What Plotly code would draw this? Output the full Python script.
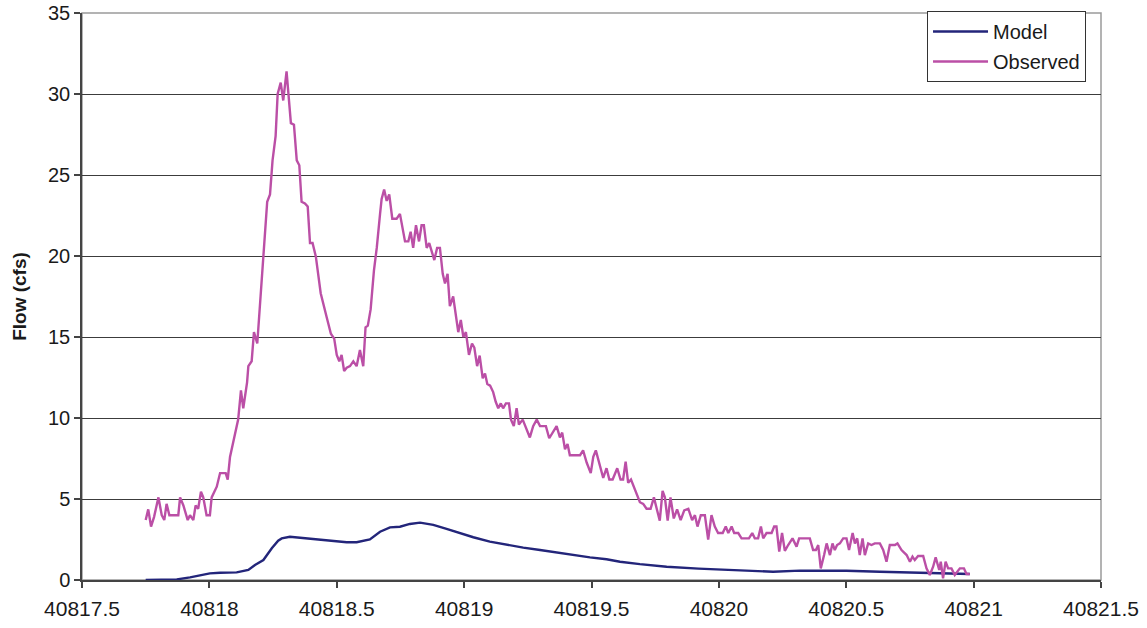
import plotly.graph_objects as go

# Observed flow record (date serial, cfs)
obs_x = [
    40817.750, 40817.760, 40817.771, 40817.783, 40817.800, 40817.813, 40817.823, 40817.832,
    40817.843, 40817.878, 40817.885, 40817.898, 40817.915, 40817.924, 40817.937, 40817.946,
    40817.956, 40817.967, 40817.976, 40817.989, 40818.002, 40818.009, 40818.029, 40818.042,
    40818.064, 40818.072, 40818.081, 40818.100, 40818.113, 40818.124, 40818.133, 40818.148,
    40818.153, 40818.166, 40818.175, 40818.188, 40818.205, 40818.215, 40818.227, 40818.238,
    40818.248, 40818.260, 40818.268, 40818.280, 40818.290, 40818.303, 40818.320, 40818.332,
    40818.343, 40818.353, 40818.362, 40818.375, 40818.386, 40818.395, 40818.405, 40818.418,
    40818.437, 40818.460, 40818.477, 40818.490, 40818.500, 40818.510, 40818.519, 40818.529,
    40818.539, 40818.552, 40818.565, 40818.578, 40818.591, 40818.604, 40818.613, 40818.622,
    40818.633, 40818.646, 40818.657, 40818.670, 40818.676, 40818.686, 40818.696, 40818.706,
    40818.718, 40818.735, 40818.748, 40818.768, 40818.781, 40818.790, 40818.800, 40818.811,
    40818.823, 40818.833, 40818.842, 40818.853, 40818.863, 40818.883, 40818.894, 40818.905,
    40818.916, 40818.925, 40818.935, 40818.944, 40818.957, 40818.977, 40818.987, 40818.997,
    40819.007, 40819.019, 40819.031, 40819.040, 40819.051, 40819.061, 40819.073, 40819.082,
    40819.091, 40819.102, 40819.114, 40819.124, 40819.134, 40819.144, 40819.153, 40819.164,
    40819.176, 40819.184, 40819.195, 40819.206, 40819.215, 40819.230, 40819.241, 40819.258,
    40819.271, 40819.285, 40819.298, 40819.321, 40819.334, 40819.350, 40819.363, 40819.376,
    40819.385, 40819.396, 40819.406, 40819.415, 40819.455, 40819.467, 40819.481, 40819.497,
    40819.507, 40819.517, 40819.530, 40819.546, 40819.559, 40819.570, 40819.583, 40819.601,
    40819.614, 40819.624, 40819.634, 40819.644, 40819.655, 40819.670, 40819.690, 40819.703,
    40819.716, 40819.732, 40819.745, 40819.756, 40819.768, 40819.779, 40819.788, 40819.799,
    40819.810, 40819.823, 40819.836, 40819.850, 40819.864, 40819.880, 40819.895, 40819.906,
    40819.916, 40819.929, 40819.945, 40819.958, 40819.971, 40819.984, 40819.997, 40820.015,
    40820.027, 40820.037, 40820.050, 40820.060, 40820.076, 40820.089, 40820.118, 40820.131,
    40820.141, 40820.154, 40820.165, 40820.174, 40820.187, 40820.207, 40820.217, 40820.226,
    40820.237, 40820.248, 40820.259, 40820.272, 40820.289, 40820.305, 40820.315, 40820.325,
    40820.357, 40820.370, 40820.381, 40820.390, 40820.400, 40820.413, 40820.423, 40820.436,
    40820.446, 40820.455, 40820.464, 40820.475, 40820.488, 40820.501, 40820.511, 40820.525,
    40820.534, 40820.543, 40820.553, 40820.564, 40820.573, 40820.586, 40820.599, 40820.612,
    40820.632, 40820.645, 40820.658, 40820.671, 40820.691, 40820.701, 40820.717, 40820.737,
    40820.750, 40820.760, 40820.769, 40820.782, 40820.802, 40820.815, 40820.828, 40820.841,
    40820.851, 40820.865, 40820.871, 40820.880, 40820.890, 40820.900, 40820.913, 40820.926,
    40820.946, 40820.962, 40820.972, 40820.985,
]
obs_y = [
    3.7, 4.36, 3.3, 3.9, 5.1, 4.0, 3.7, 4.7,
    4.0, 4.0, 5.1, 4.6, 3.7, 4.0, 3.7, 4.6,
    4.4, 5.45, 5.1, 4.0, 4.0, 5.1, 5.76, 6.6,
    6.6, 6.2, 7.6, 9.05, 9.9, 11.7, 10.6, 12.2,
    13.2, 13.5, 15.3, 14.6, 18.3, 20.2, 23.35, 23.8,
    25.9, 27.4, 30.0, 30.7, 29.6, 31.4, 28.2, 28.1,
    25.9, 25.6, 23.35, 23.25, 23.05, 20.8, 20.8, 19.96,
    17.7, 16.25, 15.2, 14.9, 13.9, 13.5, 13.9, 12.9,
    13.1, 13.2, 13.5, 13.2, 14.2, 13.2, 15.6, 15.7,
    16.7, 19.1, 20.5, 22.6, 23.5, 24.1, 23.4, 23.8,
    22.3, 22.3, 22.6, 20.9, 20.9, 21.5, 20.5, 21.9,
    20.9, 21.9, 21.9, 20.5, 20.8, 19.75, 20.5, 20.5,
    18.9, 18.3, 18.9, 16.9, 17.5, 15.3, 16.05, 15.0,
    15.3, 13.9, 14.6, 14.35, 13.2, 13.85, 12.45, 12.75,
    12.1, 12.0, 11.6, 11.0, 10.6, 10.9, 10.6, 10.9,
    10.9, 9.9, 9.5, 10.6, 9.6, 9.9, 9.5, 8.8,
    9.5, 9.9, 9.5, 9.5, 8.75, 9.15, 9.5, 8.8,
    9.1, 8.07, 8.4, 7.7, 7.7, 8.0, 7.25, 6.6,
    7.6, 8.0, 7.25, 6.3, 6.9, 6.2, 6.2, 6.9,
    6.2, 6.2, 7.3, 6.0, 6.2, 5.55, 4.8, 4.7,
    4.4, 4.4, 5.1, 4.4, 3.66, 5.5, 5.1, 3.66,
    5.1, 3.8, 4.36, 3.7, 4.3, 4.4, 3.7, 4.0,
    3.3, 4.0, 4.0, 2.5, 4.0, 3.3, 2.9, 2.9,
    3.3, 2.9, 3.3, 2.9, 2.9, 2.57, 2.57, 2.9,
    2.57, 2.57, 3.3, 2.57, 2.9, 2.9, 3.3, 3.3,
    1.75, 2.9, 1.8, 2.16, 2.57, 2.06, 2.57, 2.57,
    2.57, 1.85, 1.85, 2.16, 0.72, 1.54, 2.26, 1.54,
    2.26, 1.85, 2.16, 2.26, 2.57, 2.57, 1.85, 2.9,
    2.26, 2.57, 1.54, 2.57, 1.54, 2.26, 2.16, 2.26,
    2.26, 1.85, 1.13, 2.16, 2.16, 2.26, 1.85, 1.54,
    1.13, 1.44, 1.23, 1.48, 1.48, 0.72, 0.31, 0.82,
    1.4, 0.62, 1.13, 0.1, 1.13, 0.72, 0.72, 0.31,
    0.72, 0.72, 0.37, 0.37,
]

# Simulated flow (date serial, cfs)
model_x = [
    40817.750, 40817.872, 40817.924, 40817.963, 40818.002, 40818.042, 40818.107, 40818.153,
    40818.179, 40818.212, 40818.245, 40818.270, 40818.284, 40818.316, 40818.382, 40818.473,
    40818.539, 40818.578, 40818.630, 40818.670, 40818.709, 40818.748, 40818.787, 40818.827,
    40818.879, 40818.931, 40818.984, 40819.036, 40819.101, 40819.167, 40819.232, 40819.298,
    40819.363, 40819.428, 40819.494, 40819.559, 40819.612, 40819.690, 40819.795, 40819.920,
    40820.056, 40820.213, 40820.318, 40820.501, 40820.632, 40820.761, 40820.894, 40820.985,
]
model_y = [
    0.0, 0.04, 0.16, 0.27, 0.41, 0.45, 0.47, 0.62,
    0.93, 1.23, 1.96, 2.43, 2.57, 2.67, 2.57, 2.47,
    2.33, 2.33, 2.51, 2.98, 3.25, 3.29, 3.46, 3.54,
    3.40, 3.15, 2.88, 2.64, 2.37, 2.16, 2.00, 1.85,
    1.69, 1.54, 1.40, 1.28, 1.13, 0.98, 0.82, 0.70,
    0.62, 0.51, 0.58, 0.57, 0.51, 0.45, 0.41, 0.37,
]

FONT = "Liberation Sans, Arial, sans-serif"
TEXT = "#1a1a1a"
AXIS_DARK = "#444444"
BORDER = "#9a9a9a"

fig = go.Figure()
fig.add_trace(go.Scatter(
    x=model_x, y=model_y, mode="lines", name="Model", legendgroup="model",
    line=dict(color="#23257a", width=2.4),
))
fig.add_trace(go.Scatter(
    x=obs_x, y=obs_y, mode="lines", name="Observed", legendgroup="obs",
    line=dict(color="#bb4fa6", width=2.4),
))

# light frame on the top and right edges of the plot area
fig.add_shape(type="rect", xref="paper", yref="paper", x0=0, y0=0, x1=1, y1=1,
              line=dict(color=BORDER, width=1.5), layer="below")

fig.update_layout(
    width=1147, height=628,
    margin=dict(l=82, r=46, t=13, b=48, autoexpand=False),
    paper_bgcolor="white", plot_bgcolor="white",
    font=dict(family=FONT, size=20, color=TEXT),
    showlegend=True,
    legend=dict(
        x=0.9853, y=1.0035, xanchor="right", yanchor="top",
        bgcolor="white", bordercolor="#333333", borderwidth=1,
        font=dict(family=FONT, size=20, color=TEXT),
        tracegroupgap=1, itemwidth=55,
    ),
    xaxis=dict(
        range=[40817.5, 40821.5], dtick=0.5, tick0=40817.5,
        tickformat=".1~f", automargin=False,
        showgrid=False, zeroline=False,
        showline=True, linecolor=AXIS_DARK, linewidth=1.5,
        ticks="outside", ticklen=6, tickcolor=AXIS_DARK, tickwidth=1.5,
        ticklabelstandoff=3,
        tickfont=dict(family=FONT, size=21, color=TEXT),
    ),
    yaxis=dict(
        range=[0, 35], dtick=5, tick0=0, automargin=False,
        showgrid=True, gridcolor="#3c3c3c", gridwidth=1,
        zeroline=False,
        showline=True, linecolor=AXIS_DARK, linewidth=1.5,
        ticks="outside", ticklen=6, tickcolor=AXIS_DARK, tickwidth=1.5,
        tickfont=dict(family=FONT, size=20, color=TEXT),
        title=dict(text="<b>Flow (cfs)</b>", font=dict(family=FONT, size=19, color=TEXT),
                   standoff=16),
    ),
)

fig.write_html("out.html")
